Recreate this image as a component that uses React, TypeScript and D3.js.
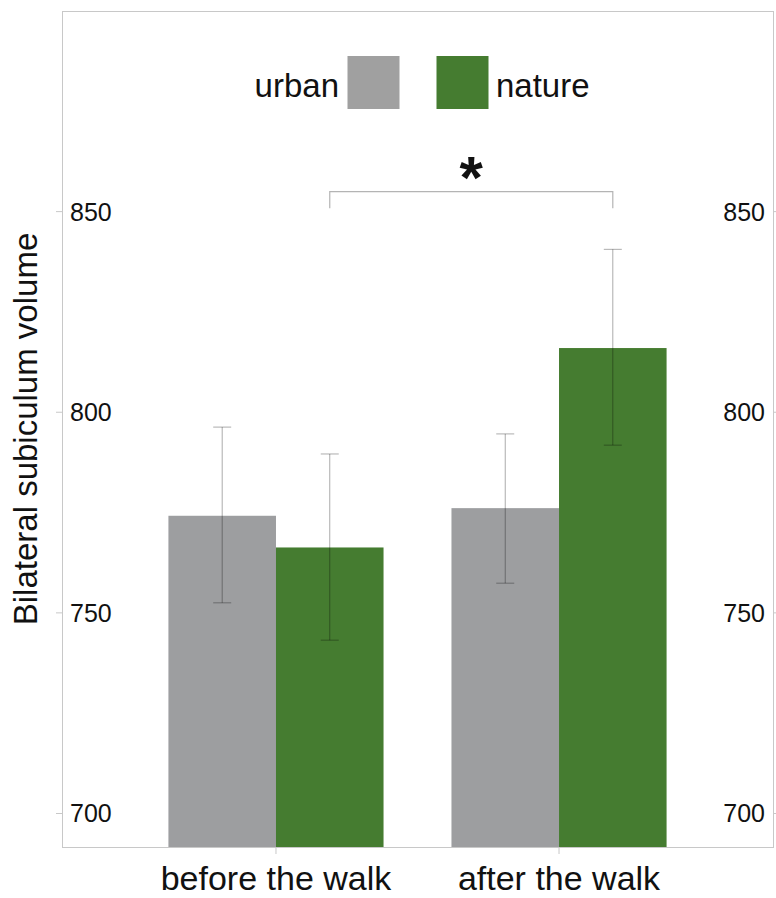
import React from "react";
import * as d3 from "d3";

const conditions = ["before the walk", "after the walk"];
const groups = ["urban", "nature"];
const urbanMeans = [774.2, 776.1];
const natureMeans = [766.3, 816.0];
const urbanLow = [752.5, 757.4];
const urbanHigh = [796.3, 794.6];
const natureLow = [743.2, 791.8];
const natureHigh = [789.6, 840.6];
const yTicks = [700, 750, 800, 850];
const groupColors = ["#9d9ea0", "#457c30"];
const legendColors = ["#a0a0a0", "#457c30"];
const yTitle = "Bilateral subiculum volume";
const sigLabel = "*";

const W = 776;
const H = 898;
const left = 62;
const right = 773;
const top = 11;
const bottom = 847;
const FONT = "'Liberation Sans', Arial, Helvetica, sans-serif";

export default function App() {
  const x0 = d3.scaleBand<string>().domain(conditions).range([left, right]).paddingInner(0.24).paddingOuter(0.376);
  const x1 = d3.scaleBand<string>().domain(groups).range([0, x0.bandwidth()]).padding(0);
  const y = d3.scaleLinear().domain([691.65, 900]).range([bottom, top]);

  const means = [urbanMeans, natureMeans];
  const lows = [urbanLow, natureLow];
  const highs = [urbanHigh, natureHigh];
  const cap = 9;

  const bars: React.ReactNode[] = [];
  const errs: React.ReactNode[] = [];
  conditions.forEach((c, ci) => {
    groups.forEach((g, gi) => {
      const bx = (x0(c) as number) + (x1(g) as number);
      const bw = x1.bandwidth();
      const v = means[gi][ci];
      bars.push(
        <rect key={`b-${c}-${g}`} x={bx} y={y(v)} width={bw} height={bottom - y(v)} fill={groupColors[gi]} />
      );
      const cx = bx + bw / 2;
      const lo = y(lows[gi][ci]);
      const hi = y(highs[gi][ci]);
      errs.push(
        <g key={`e-${c}-${g}`} stroke="rgba(0,0,0,0.33)" strokeWidth={1}>
          <line x1={cx} x2={cx} y1={hi} y2={lo} />
          <line x1={cx - cap} x2={cx + cap} y1={hi} y2={hi} />
          <line x1={cx - cap} x2={cx + cap} y1={lo} y2={lo} />
        </g>
      );
    });
  });

  const nb = (x0(conditions[0]) as number) + (x1("nature") as number) + x1.bandwidth() / 2;
  const na = (x0(conditions[1]) as number) + (x1("nature") as number) + x1.bandwidth() / 2;
  const brY = 191.7;
  const brDrop = 16.5;

  return (
    <svg width={W} height={H} style={{ position: "absolute", left: 0, top: 0, background: "#fff" }} fontFamily={FONT}>
      <rect x={0} y={0} width={W} height={H} fill="#fff" />
      {bars}
      {errs}
      <rect x={left + 0.5} y={top + 0.5} width={right - left} height={bottom - top} fill="none" stroke="#c8c8c8" strokeWidth={1} />
      {yTicks.map((t) => (
        <g key={`t-${t}`}>
          <line x1={left - 6} x2={left} y1={y(t)} y2={y(t)} stroke="#c8c8c8" />
          <line x1={right} x2={right + 6} y1={y(t)} y2={y(t)} stroke="#c8c8c8" />
          <text x={left + 8} y={y(t)} dy="0.36em" fontSize={25} fill="#111" textAnchor="start">{t}</text>
          <text x={right - 8} y={y(t)} dy="0.36em" fontSize={25} fill="#111" textAnchor="end">{t}</text>
        </g>
      ))}
      {conditions.map((c) => {
        const cx = (x0(c) as number) + x0.bandwidth() / 2;
        return (
          <g key={`x-${c}`}>
            <line x1={cx} x2={cx} y1={bottom} y2={bottom + 7} stroke="#c8c8c8" />
            <text x={cx} y={890} fontSize={34} fill="#111" textAnchor="middle">{c}</text>
          </g>
        );
      })}
      <text transform={`translate(37, ${(top + bottom) / 2}) rotate(-90)`} fontSize={33} fill="#111" textAnchor="middle">{yTitle}</text>
      <text x={339} y={97} fontSize={33} fill="#111" textAnchor="end">{groups[0]}</text>
      <rect x={347.5} y={56} width={52} height={53} fill={legendColors[0]} />
      <rect x={436.5} y={56} width={52} height={53} fill={legendColors[1]} />
      <text x={496} y={97} fontSize={33} fill="#111" textAnchor="start">{groups[1]}</text>
      <path d={`M${nb},${brY + brDrop}V${brY}H${na}V${brY + brDrop}`} fill="none" stroke="#b4b4b4" strokeWidth={1.2} />
      <text x={(nb + na) / 2} y={198} fontSize={60} fontWeight="bold" fill="#111" textAnchor="middle">{sigLabel}</text>
    </svg>
  );
}
